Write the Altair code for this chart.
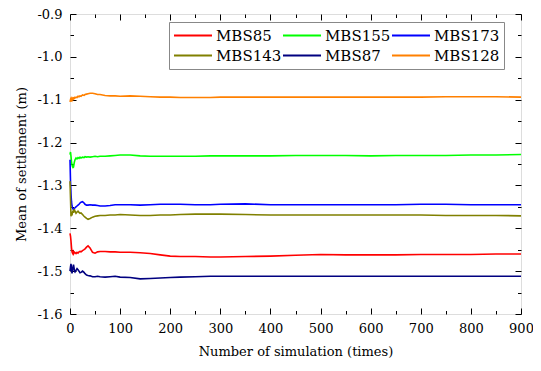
import altair as alt
import pandas as pd

xs = [0, 1, 2, 3, 4, 5, 6, 7, 8, 9, 10, 12, 14, 16, 18, 20, 22, 25, 28, 30, 33, 36, 40, 45, 50,
      55, 60, 70, 80, 90, 100, 120, 140, 160, 180, 200, 220, 250, 280, 300, 350, 400, 450, 500,
      550, 600, 650, 700, 750, 800, 850, 900]

mbs85 = [-1.412, -1.418, -1.430, -1.445, -1.455, -1.458, -1.460, -1.455, -1.458, -1.456, -1.457,
         -1.459, -1.456, -1.458, -1.455, -1.454, -1.455, -1.452, -1.450, -1.448, -1.444, -1.441,
         -1.446, -1.456, -1.458, -1.455, -1.454, -1.454, -1.455, -1.455, -1.456, -1.456, -1.457,
         -1.459, -1.462, -1.465, -1.466, -1.466, -1.467, -1.467, -1.466, -1.465, -1.463, -1.461,
         -1.462, -1.462, -1.462, -1.461, -1.461, -1.461, -1.460, -1.460]

mbs155 = [-1.228, -1.222, -1.232, -1.245, -1.252, -1.256, -1.258, -1.257, -1.250, -1.244, -1.240,
          -1.236, -1.238, -1.235, -1.237, -1.234, -1.236, -1.234, -1.235, -1.233, -1.234, -1.233,
          -1.234, -1.233, -1.232, -1.233, -1.232, -1.232, -1.231, -1.230, -1.229, -1.229, -1.231,
          -1.232, -1.232, -1.232, -1.232, -1.232, -1.231, -1.231, -1.231, -1.231, -1.230, -1.230,
          -1.230, -1.231, -1.230, -1.230, -1.230, -1.229, -1.229, -1.228]

mbs173 = [-1.240, -1.290, -1.320, -1.338, -1.348, -1.352, -1.355, -1.356, -1.355, -1.354, -1.352,
          -1.350, -1.348, -1.346, -1.344, -1.341, -1.339, -1.338, -1.341, -1.344, -1.346, -1.346,
          -1.345, -1.346, -1.346, -1.347, -1.348, -1.348, -1.347, -1.345, -1.345, -1.345, -1.346,
          -1.345, -1.344, -1.344, -1.344, -1.345, -1.345, -1.344, -1.343, -1.345, -1.345, -1.345,
          -1.345, -1.345, -1.345, -1.344, -1.344, -1.345, -1.345, -1.345]

mbs143 = [-1.290, -1.330, -1.372, -1.366, -1.370, -1.362, -1.360, -1.364, -1.358, -1.357, -1.360,
          -1.365, -1.362, -1.360, -1.363, -1.365, -1.364, -1.368, -1.372, -1.374, -1.377, -1.379,
          -1.377, -1.374, -1.372, -1.371, -1.370, -1.370, -1.369, -1.369, -1.368, -1.369, -1.370,
          -1.370, -1.369, -1.369, -1.368, -1.367, -1.367, -1.367, -1.368, -1.369, -1.369, -1.369,
          -1.369, -1.369, -1.369, -1.369, -1.370, -1.370, -1.370, -1.371]

mbs87 = [-1.500, -1.490, -1.483, -1.495, -1.505, -1.498, -1.490, -1.485, -1.492, -1.500, -1.502,
         -1.498, -1.494, -1.497, -1.500, -1.504, -1.503, -1.500, -1.503, -1.506, -1.509, -1.510,
         -1.511, -1.513, -1.513, -1.512, -1.513, -1.514, -1.513, -1.512, -1.514, -1.515, -1.518,
         -1.517, -1.516, -1.515, -1.514, -1.513, -1.512, -1.512, -1.512, -1.512, -1.512, -1.512,
         -1.512, -1.512, -1.512, -1.512, -1.512, -1.512, -1.512, -1.512]

mbs128 = [-1.105, -1.100, -1.104, -1.098, -1.101, -1.097, -1.099, -1.096, -1.097, -1.095, -1.096,
          -1.094, -1.095, -1.092, -1.093, -1.091, -1.092, -1.089, -1.090, -1.088, -1.087, -1.086,
          -1.085, -1.085, -1.086, -1.088, -1.088, -1.090, -1.091, -1.091, -1.092, -1.091, -1.092,
          -1.093, -1.094, -1.094, -1.095, -1.095, -1.095, -1.094, -1.094, -1.094, -1.094, -1.094,
          -1.094, -1.094, -1.094, -1.094, -1.093, -1.093, -1.093, -1.094]

series_names = ["MBS85", "MBS155", "MBS173", "MBS143", "MBS87", "MBS128"]
series_values = [mbs85, mbs155, mbs173, mbs143, mbs87, mbs128]
series_colors = ["#ff0000", "#00ff00", "#0000ff", "#808000", "#000080", "#ff8000"]
# legend fills column by column (2 rows): this order gives rows 85/155/173 and 143/87/128
legend_order = ["MBS85", "MBS143", "MBS155", "MBS87", "MBS173", "MBS128"]
legend_colors = [series_colors[series_names.index(n)] for n in legend_order]

x_major = list(range(0, 901, 100))
x_minor = list(range(50, 900, 100))
y_major = [round(-1.6 + 0.1 * i, 2) for i in range(8)]
y_minor = [round(-1.55 + 0.1 * i, 2) for i in range(7)]

rows = []
for name, vals in zip(series_names, series_values):
    for xv, yv in zip(xs, vals):
        rows.append({"x": xv, "v": yv, "series": name})
df = pd.DataFrame(rows)

FONT = "DejaVu Serif"
xscale = alt.Scale(domain=[0, 900], nice=False, zero=False)
yscale = alt.Scale(domain=[-1.6, -0.9], nice=False, zero=False)


def axis(orient, values, size, labels, title=None, padding=0, fmt=None, tpad=0):
    kw = dict(orient=orient, values=values, tickSize=alt.ExprRef(expr=str(-size)),
              labels=labels, grid=False, domain=False, tickColor="black", tickWidth=1)
    if title:
        kw.update(title=title, titleFont=FONT, titleFontSize=13, titleFontWeight="normal",
                  titleColor="black", titlePadding=tpad)
    else:
        kw.update(title=None)
    if labels:
        kw.update(labelFont=FONT, labelFontSize=13, labelColor="black", labelPadding=padding,
                  labelFlush=False, labelOverlap=False)
        if fmt:
            kw.update(labelExpr=fmt)
    return alt.Axis(**kw)


main = alt.Chart(df).mark_line(strokeWidth=1.6).encode(
    x=alt.X("x:Q", scale=xscale,
            axis=axis("bottom", x_major, 6, True, "Number of simulation (times)", 14.5, None, 10)),
    y=alt.Y("v:Q", scale=yscale,
            axis=axis("left", y_major, 6, True, "Mean of settlement (m)", 14,
                      "(datum.value < 0 ? '-' : '') + format(abs(datum.value), '.1f')", 8)),
    color=alt.Color("series:N", scale=alt.Scale(domain=legend_order, range=legend_colors),
                    legend=alt.Legend(title=None, orient="none", legendX=99, legendY=8,
                                      columns=3, symbolType="stroke", symbolSize=1444,
                                      symbolStrokeWidth=2, clipHeight=19,
                                      labelFont=FONT, labelFontSize=15,
                                      labelColor="black", labelOffset=3, columnPadding=0,
                                      rowPadding=1, padding=4, strokeColor="#888888",
                                      fillColor="white", labelLimit=200)),
)


def ghost(xo, xv, xs_, yo, yv, ys_):
    return alt.Chart(df).mark_line(strokeOpacity=0).encode(
        x=alt.X("x:Q", scale=xscale, axis=axis(xo, xv, xs_, False)),
        y=alt.Y("v:Q", scale=yscale, axis=axis(yo, yv, ys_, False)),
        detail="series:N",
    )


layers = [
    ghost("top", x_major, 6, "right", y_major, 6),
    ghost("bottom", x_minor, 3.5, "left", y_minor, 3.5),
    ghost("top", x_minor, 3.5, "right", y_minor, 3.5),
    main,
]

chart = alt.layer(*layers).resolve_axis(x="independent", y="independent").properties(
    width=451, height=300,
    autosize=alt.AutoSizeParams(type="none"),
    padding={"left": 62, "top": 6, "right": 12, "bottom": 49},
).configure_view(stroke="black", strokeWidth=1.2).configure(background="white")

chart.save("out.html", embed_options={"renderer": "svg", "actions": False})
